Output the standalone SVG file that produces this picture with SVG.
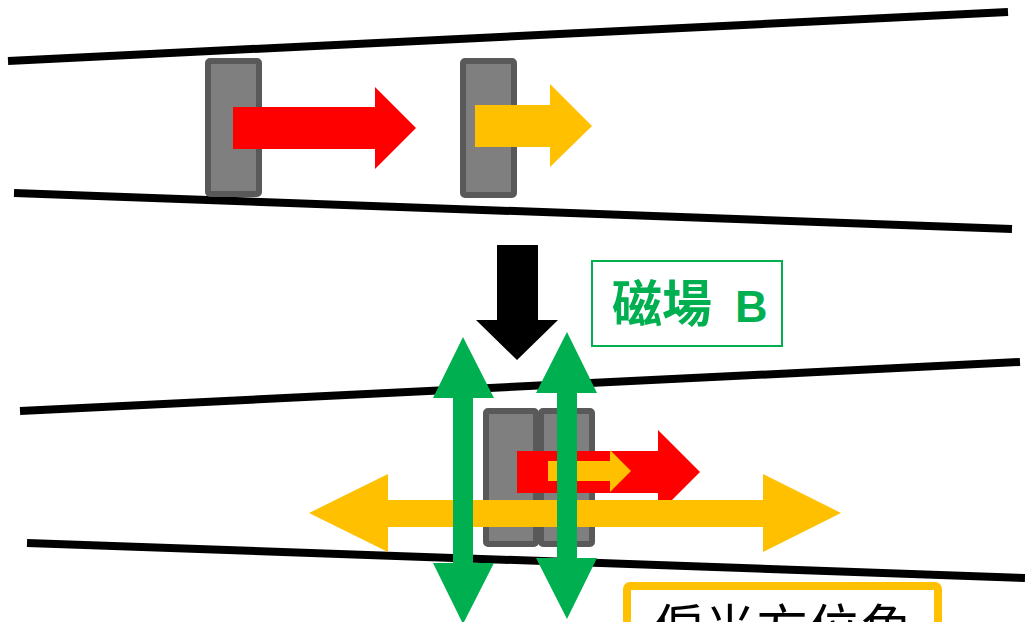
<svg xmlns="http://www.w3.org/2000/svg" width="1025" height="622" viewBox="0 0 1025 622">
<style>
.rail{stroke:#000;stroke-width:8;fill:none}
.blk{fill:#7f7f7f;stroke:#595959;stroke-width:6}
.red{fill:#ff0000}
.yel{fill:#ffc000}
.grn{fill:#00b050}
.lbl{font-family:"Noto Sans CJK TC","Noto Sans CJK JP",sans-serif}
</style>
<rect width="1025" height="622" fill="#fff"/>
<g id="rails">
<line class="rail" x1="8" y1="61" x2="1008" y2="12"/>
<line class="rail" x1="14" y1="193" x2="1012" y2="229"/>
<line class="rail" x1="20" y1="411" x2="1020" y2="362"/>
<line class="rail" x1="27" y1="543" x2="1025" y2="578"/>
</g>
<g id="block-top-1"><rect class="blk" x="208" y="61" width="51" height="133" rx="2"/></g>
<g id="block-top-2"><rect class="blk" x="463" y="61" width="51" height="134" rx="2"/></g>
<g id="block-bottom-1"><rect class="blk" x="486" y="411" width="50" height="133" rx="2"/></g>
<g id="block-bottom-2"><rect class="blk" x="541" y="411" width="51" height="133" rx="2"/></g>
<g id="connectors">
<path class="red" d="M233,107 H375 V87 L416,128 L375,169 V149 H233 Z"/>
<path class="yel" d="M475,105 H550 V84 L592,126 L550,167 V147 H475 Z"/>
<path fill="#000" d="M497,245 H538 V320 H558 L517,360 L476,320 H497 Z"/>
<path class="red" d="M517,451 H658 V430 L700,472 L658,514 V493 H517 Z"/>
<path class="yel" d="M548,461 H610 V450 L631,471 L610,492 V481 H548 Z"/>
<path class="yel" d="M309,513 L388,474 V500 H763 V474 L841,513 L763,552 V527 H388 V552 Z"/>
<path class="grn" d="M463,337 L494,398 H473 V563 H494 L463,624 L433,563 H453 V398 H433 Z"/>
<path class="grn" d="M567,332 L597,393 H577 V558 H597 L567,619 L536,558 H557 V393 H536 Z"/>
</g>
<g id="label-B">
<rect x="592" y="261" width="190" height="85" fill="#fff" stroke="#00b050" stroke-width="2"/>
<text class="lbl" x="612" y="322" font-size="50" font-weight="bold" fill="#00b050">磁場 <tspan x="735" font-family="'Liberation Sans',Arial,sans-serif" font-size="45">B</tspan></text>
</g>
<g id="label-angle">
<rect x="627" y="586" width="311" height="70" rx="3" fill="#fff" stroke="#ffc000" stroke-width="8"/>
<text class="lbl" x="652" y="648" font-size="52" fill="#000">偏光方位角</text>
</g>
</svg>
